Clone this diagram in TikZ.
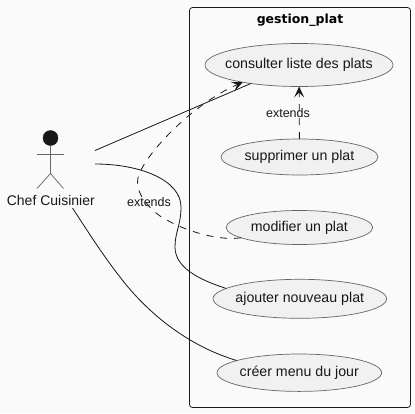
\documentclass[tikz,border=0pt]{standalone}
\usepackage{fontspec}
\setmainfont{Liberation Sans}
\newfontfamily\titlefont{DejaVu Sans}
\usetikzlibrary{arrows.meta,
                shapes.geometric}
\definecolor{fondpage}{HTML}{FAFAFA}
\definecolor{fondcas}{HTML}{F1F1F1}
\definecolor{trait}{HTML}{181818}
\definecolor{bordcas}{HTML}{666666}
\newcommand{\castxt}[1]{\makebox[0pt]{#1}}
\tikzset{
  cas/.style={ellipse,draw=bordcas,fill=fondcas,line width=.7pt,inner sep=0pt,outer sep=0pt,
              font=\fontsize{14.2}{16}\selectfont,text=trait},
  lien/.style={draw=trait,line width=.8pt},
  extension/.style={draw=trait,line width=.8pt,dash pattern=on 7pt off 7pt,
                    -{Stealth[length=11pt,width=10pt,inset=5pt]}},
  acteur/.style={draw=bordcas,line width=.7pt},
  etiquette/.style={inner sep=0pt,font=\fontsize{12.5}{14}\selectfont,text=trait}
}
\begin{document}
\begin{tikzpicture}[x=1pt,y=-1pt]
 \fill[fondpage] (0,0) rectangle (415,413);
 \useasboundingbox (0,0) rectangle (415,413);
 % paquet
 \draw[trait,line width=.8pt,rounded corners=3pt] (189.5,7.5) rectangle (410.5,407.5);
 \node[inner sep=0pt,font=\titlefont\bfseries\fontsize{12.5}{14}\selectfont] (gestion) at (300,20) {gestion\_plat};
 % cas
 \node[cas,minimum width=188pt,minimum height=43pt] (consulter) at (299,65) {\castxt{consulter liste des plats}};
 \node[cas,minimum width=157pt,minimum height=36pt] (supprimer) at (299.5,157) {\castxt{supprimer un plat}};
 \node[cas,minimum width=146.6pt,minimum height=34pt] (modifier) at (299.4,227.5) {\castxt{modifier un plat}};
 \node[cas,minimum width=173.6pt,minimum height=39pt] (ajouter) at (299.8,298.8) {\castxt{ajouter nouveau plat}};
 \node[cas,minimum width=164.6pt,minimum height=37.4pt] (creer) at (299.3,372.7) {\castxt{créer menu du jour}};
 % acteur
 \node[circle,fill=trait,draw=trait,inner sep=0pt,minimum size=15pt] (tete) at (50.5,138) {};
 \coordinate (bassin) at (50.5,173.5);
 \draw[acteur] (tete) -- (bassin);
 \draw[acteur] (37,154) -- (63.5,154);
 \draw[acteur] (37,188.5) -- (bassin) -- (63.5,188.5);
 \node[inner sep=0pt,font=\fontsize{14}{16}\selectfont,text=trait] (chef) at (50.8,200) {Chef Cuisinier};
 \coordinate (chefa) at (95,150.5);
 \coordinate (chefb) at (95,164);
 \coordinate (chefc) at (72.5,208);
 % liens
 \draw[lien] (chefa) -- (consulter.201);
 \draw[lien] (chefb) .. controls (140,164) and (181,180) .. (181,207)
   .. controls (181,225) and (175,232) .. (175,247)
   .. controls (175,268) and (200,280) .. (ajouter.172.4);
 \draw[lien] (chefc) .. controls (90,235) and (105,258) .. (120,277)
   .. controls (145,310) and (185,345) .. (creer.169.1);
 % extensions
 \draw[extension] (supprimer) -- (consulter);
 \node[etiquette] (extsup) at (288,113.5) {extends};
 \draw[extension] (modifier.190) .. controls (220,241) and (185,232) .. (160,216)
   .. controls (145,205) and (135,190) .. (138,178)
   .. controls (142,158) and (190,105) .. (consulter.197);
 \node[etiquette] (extmod) at (149,202) {extends};
\end{tikzpicture}
\end{document}
